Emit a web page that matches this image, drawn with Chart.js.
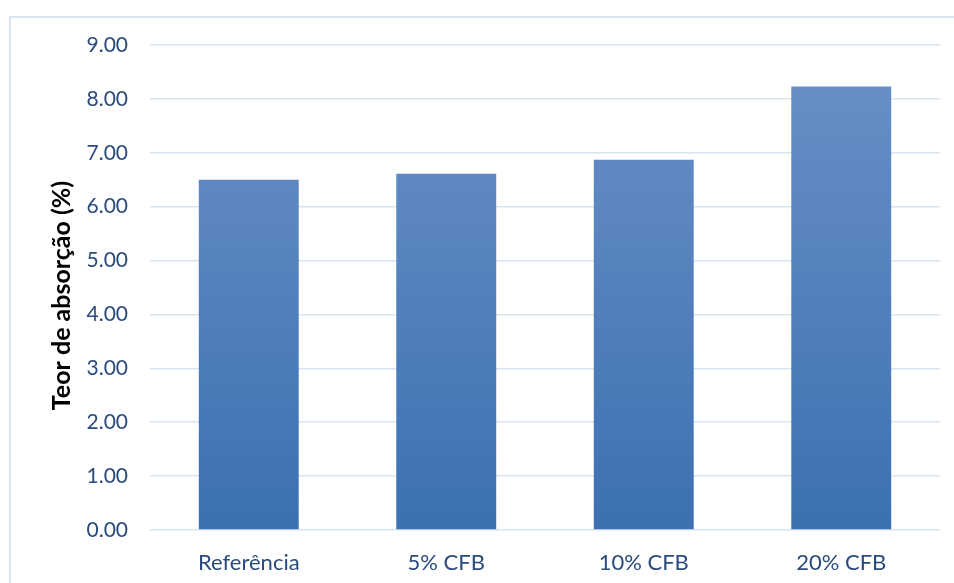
<!DOCTYPE html>
<html>
<head>
<meta charset="utf-8">
<script src="https://cdn.jsdelivr.net/npm/chart.js@4"></script>
<style>
  html, body { margin: 0; padding: 0; background: #fff; }
  #wrap { width: 954px; height: 583px; }
</style>
</head>
<body>
<div id="wrap"><canvas id="myChart" width="954" height="583"></canvas></div>
<script>
const labels = ['Referência', '5% CFB', '10% CFB', '20% CFB']
const teor = [6.50, 6.61, 6.87, 8.23]
const yTitle = 'Teor de absorção (%)'

const ctx = document.getElementById('myChart').getContext('2d')

// vertical gradient for the bars, lighter at the top
function barGradient(context) {
    const area = context.chart.chartArea
    if (!area) return '#4f7fbf'
    const g = context.chart.ctx.createLinearGradient(0, area.top, 0, area.bottom)
    g.addColorStop(0, '#6b91c8')
    g.addColorStop(1, '#3c70b1')
    return g
}

// light outer frame around the whole chart
const frame = {
    id: 'frame',
    beforeDraw(chart) {
        const c = chart.ctx
        c.save()
        c.strokeStyle = '#d9e3f3'
        c.lineWidth = 2
        c.strokeRect(10, 17, 960, 600)
        c.restore()
    }
}

// y axis title, sitting a little below the middle of the plot
const axisTitle = {
    id: 'axisTitle',
    afterDraw(chart) {
        const c = chart.ctx
        const a = chart.chartArea
        c.save()
        c.translate(62, (a.top + a.bottom) / 2 + 8)
        c.rotate(-Math.PI / 2)
        c.font = 'bold 25px Lato'
        c.fillStyle = '#000'
        c.textAlign = 'center'
        c.textBaseline = 'middle'
        c.fillText(yTitle, 0, 0)
        c.restore()
    }
}

new Chart(ctx, {
    type: 'bar',
    data: {
        labels: labels,
        datasets: [{
            data: teor,
            backgroundColor: barGradient,
            barPercentage: 0.506,
            categoryPercentage: 1
        }]
    },
    options: {
        responsive: false,
        animation: false,
        layout: { padding: { left: 10, top: 45, right: 14, bottom: 0 } },
        plugins: { legend: { display: false }, tooltip: { enabled: false } },
        scales: {
            x: {
                afterFit: (s) => { s.height = 53 },
                grid: { display: false },
                border: { display: false },
                ticks: {
                    padding: 12,
                    color: '#2a4b7c',
                    font: { family: 'Lato', size: 22 }
                }
            },
            y: {
                min: 0,
                max: 9,
                afterFit: (s) => { s.width = 140 },
                grid: { color: '#d9e3f2', lineWidth: 1.5, drawTicks: false },
                border: { display: false },
                ticks: {
                    stepSize: 1,
                    padding: 22,
                    color: '#2a4b7c',
                    font: { family: 'Lato', size: 21 },
                    callback: (v) => v.toFixed(2)
                }
            }
        }
    },
    plugins: [frame, axisTitle]
})
</script>
</body>
</html>
